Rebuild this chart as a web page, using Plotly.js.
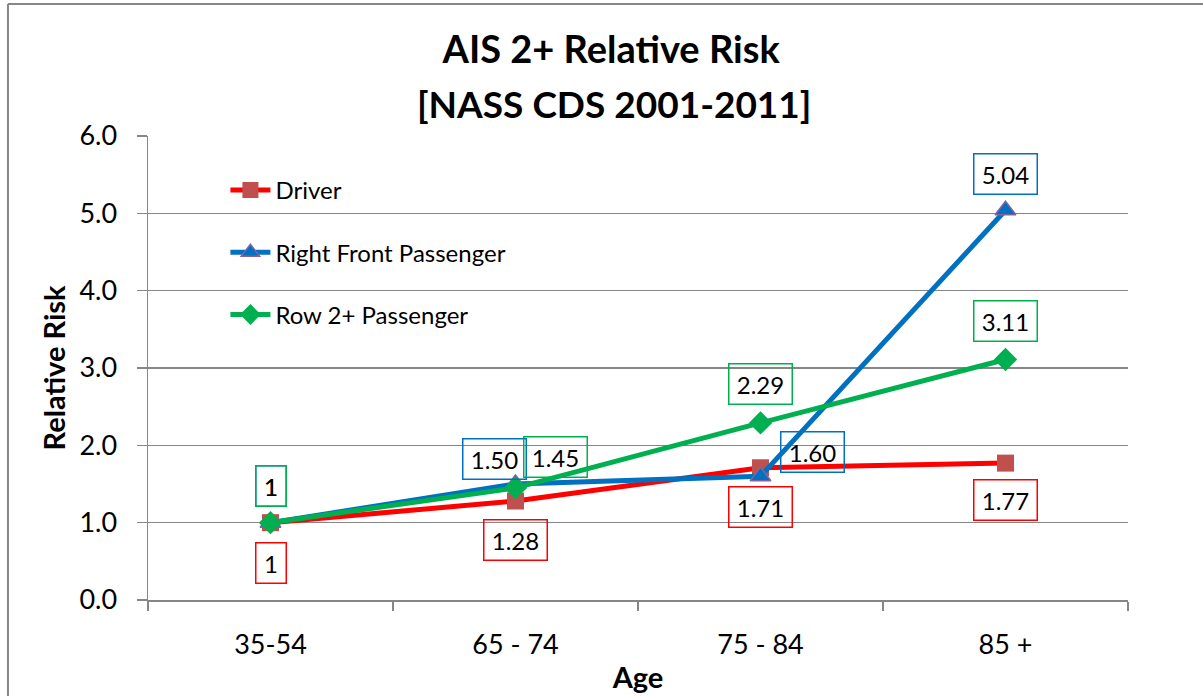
<!DOCTYPE html>
<html>
<head>
<meta charset="utf-8">
<script src="https://cdn.plot.ly/plotly-3.0.1.min.js"></script>
<style>html,body{margin:0;padding:0;background:#fff;} #chart{width:1203px;height:696px;}</style>
</head>
<body>
<div id="chart"></div>
<script>
const categories = ["35-54", "65 - 74", "75 - 84", "85 +"];
const driver = [1, 1.28, 1.71, 1.77];
const rightFront = [1, 1.50, 1.60, 5.04];
const row2 = [1, 1.45, 2.29, 3.11];
const yTickVals = [0, 1, 2, 3, 4, 5, 6];
const yTickText = ["0.0", "1.0", "2.0", "3.0", "4.0", "5.0", "6.0"];

// label offsets (pixels) relative to each point
const driverOff = [[0, 40], [0, 39], [0, 39], [0, 37]];
const rightOff = [[0, -37], [-21, -25], [52, -24], [0, -36]];
const rowOff = [[0, -37], [40, -31], [0, -39], [0, -38]];

const FONT = "Lato, 'Open Sans', sans-serif";
const RED = "#FF0000", BLUE = "#0070C0", GREEN = "#00B050";

function fmt(v) { return v === 1 ? "1" : v.toFixed(2); }

const traces = [
  {name: "Driver", x: categories, y: driver, type: "scatter", mode: "lines+markers",
   line: {color: RED, width: 5}, marker: {symbol: "square", size: 17, color: "#C0504D"},
   legendgroup: "a"},
  {name: "Right Front Passenger", x: categories, y: rightFront, type: "scatter", mode: "lines+markers",
   line: {color: BLUE, width: 5}, marker: {symbol: "triangle-up", size: 18, color: BLUE, line: {color: "#8064A2", width: 1.5}},
   legendgroup: "b"},
  {name: "Row 2+ Passenger", x: categories, y: row2, type: "scatter", mode: "lines+markers",
   line: {color: GREEN, width: 5}, marker: {symbol: "diamond", size: 18, color: GREEN},
   legendgroup: "c"}
];

const annotations = [];
function addLabels(vals, offs, color) {
  vals.forEach((v, i) => {
    const t = fmt(v);
    annotations.push({
      x: categories[i], y: v, xref: "x", yref: "y", text: t, showarrow: false,
      xshift: offs[i][0], yshift: -offs[i][1],
      font: {family: FONT, size: 24, color: "#000"},
      bordercolor: color, borderwidth: 1.5, borderpad: 0,
      width: t.length === 1 ? 29 : 62, height: 39
    });
  });
}
addLabels(driver, driverOff, RED);
addLabels(rightFront, rightOff, BLUE);
addLabels(row2, rowOff, GREEN);

annotations.push({
  text: "<b>[NASS CDS 2001-2011]</b>", xref: "paper", yref: "paper",
  x: 0.5, y: 1.071, showarrow: false, xanchor: "center", yanchor: "middle", xshift: -24,
  font: {family: FONT, size: 37, color: "#000"}
});

const layout = {
  width: 1203, height: 696,
  margin: {l: 148, r: 75, t: 136, b: 96},
  paper_bgcolor: "#fff", plot_bgcolor: "#fff",
  font: {family: FONT, color: "#000"},
  title: {text: "<b>AIS 2+ Relative Risk</b>", font: {family: FONT, size: 38, color: "#000"},
          x: 0.508, xref: "container", xanchor: "center", y: 0.928, yref: "container", yanchor: "middle"},
  xaxis: {type: "category", categoryorder: "array", categoryarray: categories,
          range: [-0.5, 3.5], showgrid: false, showline: true, linecolor: "#868686", linewidth: 1.5,
          ticks: "outside", tickson: "boundaries", ticklen: 9, tickcolor: "#868686", tickwidth: 1.5,
          ticklabelstandoff: 20,
          tickfont: {family: FONT, size: 27}, zeroline: false,
          title: {text: "<b>Age</b>", font: {family: FONT, size: 29}, standoff: 9}},
  yaxis: {range: [0, 6], tickvals: yTickVals, ticktext: yTickText, showgrid: true,
          gridcolor: "#868686", gridwidth: 1.5, showline: true, linecolor: "#868686", linewidth: 1.5,
          ticks: "outside", ticklen: 10, tickcolor: "#868686", tickwidth: 1.5, ticklabelstandoff: 14,
          tickfont: {family: FONT, size: 27}, zeroline: false,
          title: {text: "<b>Relative Risk</b>", font: {family: FONT, size: 29}, standoff: 5}},
  showlegend: true,
  legend: {x: 0.079, y: 0.931, xanchor: "left", yanchor: "top", bgcolor: "rgba(0,0,0,0)",
           font: {family: FONT, size: 24, color: "#000"}, tracegroupgap: 28, traceorder: "grouped",
           itemwidth: 40},
  annotations: annotations,
  shapes: [
    {type: "line", xref: "paper", yref: "paper", x0: -0.1429, x1: 1.2, y0: 1.2845, y1: 1.2845,
     line: {color: "#868686", width: 2}},
    {type: "line", xref: "paper", yref: "paper", x0: -0.1429, x1: -0.1429, y0: 1.2845, y1: -0.3,
     line: {color: "#868686", width: 2}}
  ]
};

Plotly.newPlot("chart", traces, layout, {displayModeBar: false, staticPlot: true});
</script>
</body>
</html>
